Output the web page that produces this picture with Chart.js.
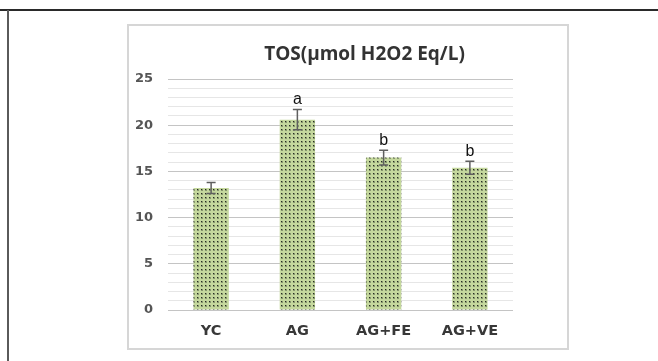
<!DOCTYPE html>
<html>
<head>
<meta charset="utf-8">
<script src="https://cdn.jsdelivr.net/npm/chart.js@4/dist/chart.umd.min.js"></script>
<style>
  html, body { margin: 0; padding: 0; background: #ffffff; }
  body { width: 658px; height: 361px; position: relative; overflow: hidden; }
  .rule-top { position: absolute; left: 0; top: 9px; width: 658px; height: 2px; background: #2a2a2a; }
  .rule-left { position: absolute; left: 7px; top: 10px; width: 2px; height: 351px; background: #5a5a5a; }
  .panel { position: absolute; left: 127px; top: 24px; width: 438px; height: 322px; border: 2px solid #d6d6d6; }
  #chart { position: absolute; left: 0; top: 0; }
</style>
</head>
<body>
<div class="rule-top"></div>
<div class="rule-left"></div>
<div class="panel"></div>
<canvas id="chart" width="658" height="361"></canvas>
<script>
// Total oxidant status per group (mean ± error) with significance letters
const groups = ['YC', 'AG', 'AG+FE', 'AG+VE'];
const tosMeans = [13.2, 20.6, 16.5, 15.4];
const tosErrors = [0.6, 1.1, 0.8, 0.7];
const sigLetters = ['', 'a', 'b', 'b'];
const chartTitle = 'TOS(µmol H2O2 Eq/L)';

// Light green fill sprinkled with dark dots
function dottedFill() {
  const c = document.createElement('canvas');
  c.width = 4; c.height = 4;
  const g = c.getContext('2d');
  g.fillStyle = '#c4d79d';
  g.fillRect(0, 0, 4, 4);
  g.fillStyle = 'rgba(60,70,50,0.45)';
  g.fillRect(1, 1, 2, 2);
  g.fillStyle = '#262a22';
  g.fillRect(1, 1, 1, 1);
  return g.createPattern(c, 'repeat');
}

const errorBars = {
  id: 'errorBars',
  afterDatasetsDraw(chart) {
    const ctx = chart.ctx;
    const y = chart.scales.y;
    const meta = chart.getDatasetMeta(0);
    ctx.save();
    meta.data.forEach((bar, i) => {
      const top = y.getPixelForValue(tosMeans[i] + tosErrors[i]);
      const bot = y.getPixelForValue(tosMeans[i] - tosErrors[i]);
      const x = bar.x;
      ctx.strokeStyle = '#5f5f5f';
      ctx.lineWidth = 1.5;
      ctx.beginPath();
      ctx.moveTo(x, top); ctx.lineTo(x, bot);
      ctx.moveTo(x - 4.5, top); ctx.lineTo(x + 4.5, top);
      ctx.moveTo(x - 4.5, bot); ctx.lineTo(x + 4.5, bot);
      ctx.stroke();
      if (sigLetters[i]) {
        ctx.fillStyle = '#111111';
        ctx.font = '16px "Liberation Sans", Arial, sans-serif';
        ctx.textAlign = 'center';
        ctx.textBaseline = 'alphabetic';
        ctx.fillText(sigLetters[i], x, top - 5);
      }
    });
    ctx.restore();
  }
};

const titleText = {
  id: 'titleText',
  afterDraw(chart) {
    const ctx = chart.ctx;
    const a = chart.chartArea;
    ctx.save();
    ctx.fillStyle = '#333333';
    ctx.font = 'bold 19px "Open Sans", sans-serif';
    ctx.textAlign = 'center';
    ctx.textBaseline = 'alphabetic';
    ctx.fillText(chartTitle, (a.left + a.right) / 2 + 24, a.top - 19);
    ctx.restore();
  }
};

new Chart(document.getElementById('chart'), {
  type: 'bar',
  data: {
    labels: groups,
    datasets: [{
      data: tosMeans,
      backgroundColor: dottedFill(),
      borderWidth: 0,
      categoryPercentage: 1,
      barPercentage: 0.41
    }]
  },
  options: {
    responsive: false,
    animation: false,
    layout: { padding: { left: 128, right: 145, top: 79, bottom: 11 } },
    plugins: { legend: { display: false }, tooltip: { enabled: false }, title: { display: false } },
    scales: {
      x: {
        grid: { display: false, drawTicks: false },
        border: { display: false },
        afterFit(s) { s.height = 40; },
        ticks: {
          padding: 13,
          color: '#383838',
          font: { family: '"DejaVu Sans", sans-serif', weight: 'bold', size: 14.5 }
        }
      },
      y: {
        min: 0,
        max: 25,
        border: { display: false },
        afterFit(s) { s.width = 40; },
        grid: {
          drawTicks: false,
          lineWidth: 1,
          color: (c) => (c.tick && c.tick.value % 5 === 0) ? '#c4c4c4' : '#e6e6e6'
        },
        ticks: {
          stepSize: 1,
          autoSkip: false,
          padding: 15,
          color: '#555555',
          font: { family: '"DejaVu Sans", sans-serif', weight: 'bold', size: 13 },
          callback: (v) => (v % 5 === 0 ? v : '')
        }
      }
    }
  },
  plugins: [errorBars, titleText]
});
</script>
</body>
</html>
